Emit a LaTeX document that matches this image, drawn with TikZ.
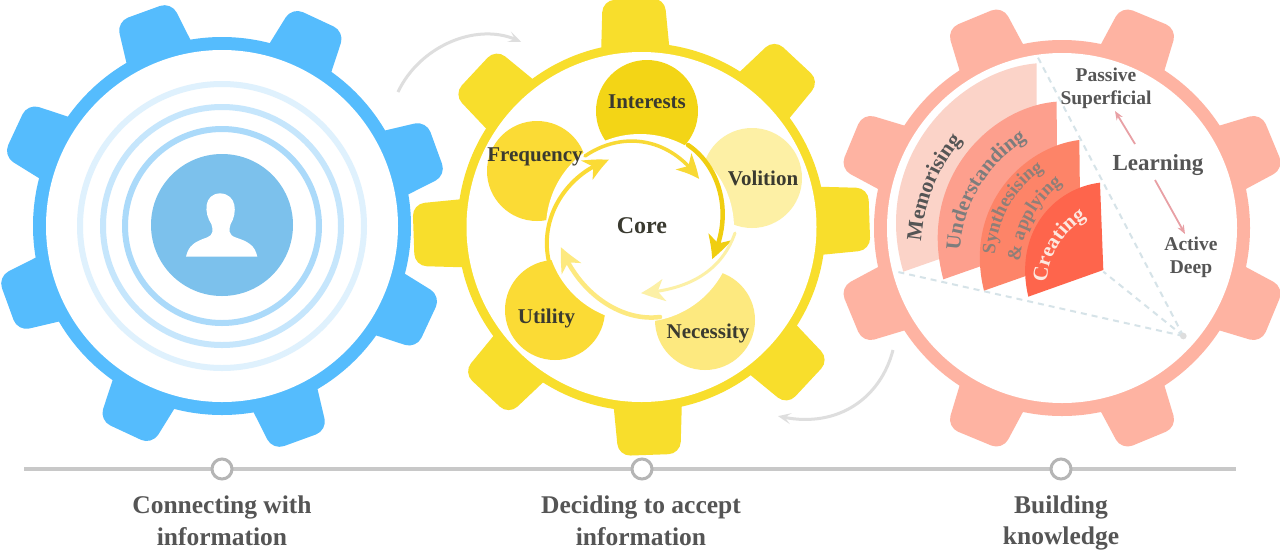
\documentclass[tikz,border=0pt]{standalone}
\usepackage{fontspec}
\setmainfont{Liberation Serif}
\usetikzlibrary{arrows.meta,decorations.text,bending}
\definecolor{gblue}{HTML}{55BCFD}
\definecolor{gyellow}{HTML}{F8DE2C}
\definecolor{gpink}{HTML}{FEB3A2}
\definecolor{txtgrey}{HTML}{555555}
\definecolor{txtdark}{HTML}{3A3A30}
\definecolor{lightarrow}{HTML}{DEDEDE}
\definecolor{dashc}{HTML}{D6E3E8}
\definecolor{wordgrey}{HTML}{7D7D7D}
\definecolor{synthgrey}{HTML}{8F7F78}
\definecolor{creatw}{HTML}{FDE8E0}
\definecolor{pinkarrow}{HTML}{E8A0A5}
\definecolor{stagec}{HTML}{B5B5B5}
\newcommand{\sz}[1]{\fontsize{#1}{#1}\selectfont\bfseries}
\newcommand{\wordA}{\sz{21.5}\color{txtgrey}}
\newcommand{\wordB}{\sz{21}\color{wordgrey}}
\newcommand{\wordC}{\sz{19}\color{synthgrey}}
\newcommand{\wordD}{\sz{21}\color{creatw}}
% centre x, centre y, outer r, inner r, first angle, colour, tip half width, base half width
\newcommand{\cog}[8]{%
  \foreach \a in {0,45,...,315}{
    \begin{scope}[shift={(#1,#2)},rotate=#5+\a]
      \fill[#6,rounded corners=12pt] (#3-20,-#8) -- (228,-#7) -- (228,#7) -- (#3-20,#8) -- cycle;
    \end{scope}
  }
  \fill[#6] (#1,#2) circle (#3);
  \fill[white] (#1,#2) circle (#4);
}
\tikzset{
  lab/.style={font=\sz{25.5},text=txtgrey,align=center},
  circlab/.style={font=\sz{21},text=txtdark},
  small/.style={font=\sz{19.5},text=txtgrey},
  stage/.style={circle,draw=stagec,fill=white,line width=3pt,minimum size=20pt,inner sep=0pt},
  ringline/.style={line width=6pt},
  grey arrow/.style={lightarrow,line width=3pt,-{Stealth[length=13pt,width=11pt,inset=6pt,bend]}},
  pink arrow/.style={draw=pinkarrow,line width=1.8pt,-{Stealth[length=9pt,width=7pt]}},
  dashl/.style={dashc,line width=2pt,dash pattern=on 6pt off 5pt},
  core arrow/.style={line width=#1,line cap=round}
}
\begin{document}
\begin{tikzpicture}[x=1pt,y=-1pt]
\useasboundingbox (0,0) rectangle (1280,550);
\fill[white] (0,0) rectangle (1280,550);

% ---- gears
\cog{222}{226}{189}{176}{20}{gblue}{29}{36}
\cog{641.5}{227}{184}{175}{2}{gyellow}{31}{35}
\cog{1062}{228}{188}{175}{22.5}{gpink}{30}{36}

% ---- blue gear content
\draw[ringline,color={rgb,255:red,223;green,241;blue,253}] (222,226) circle (142);
\draw[ringline,color={rgb,255:red,198;green,230;blue,252}] (222,226) circle (119);
\draw[ringline,color={rgb,255:red,171;green,218;blue,250}] (222,226) circle (97);
\fill[color={rgb,255:red,124;green,193;blue,236}] (222,225) circle (71);
\begin{scope}[x=0.33333pt,y=-0.33333pt]
\fill[white] (558,770) .. controls (566,735) and (585,725) .. (622,712)
  .. controls (640,705) and (640,690) .. (634,672)
  .. controls (612,640) and (610,582) .. (660,580)
  .. controls (712,582) and (712,640) .. (692,672)
  .. controls (686,690) and (686,705) .. (706,712)
  .. controls (745,725) and (764,735) .. (772,770) -- cycle;
\end{scope}

% ---- yellow gear content
\fill[color={rgb,255:red,243;green,213;blue,22}] (647,111) circle (51);
\fill[color={rgb,255:red,251;green,219;blue,53}] (537,171) circle (50);
\fill[color={rgb,255:red,253;green,240;blue,165}] (752,178) circle (50);
\fill[color={rgb,255:red,251;green,219;blue,53}] (555,310) circle (50);
\fill[color={rgb,255:red,253;green,233;blue,127}] (705,320) circle (50);
\fill[white] (640,228) circle (94);

\node[circlab] (interests) at (647,102) {Interests};
\node[circlab] (frequency) at (535,157) {Frequency};
\node[circlab] (volition) at (763,178) {Volition};
\node[circlab] (utility) at (546.5,318) {Utility};
\node[circlab] (necessity) at (708,333) {Necessity};
\node[font=\sz{24},text=txtdark] (core) at (642,226) {Core};

\coordinate (aS) at (585,156); \coordinate (aE) at (699,179);
\coordinate (bS) at (688,145); \coordinate (bE) at (712,259);
\coordinate (cS) at (735,233); \coordinate (cE) at (641,293);
\coordinate (dS) at (660,317); \coordinate (dE) at (561,247);
\coordinate (eS) at (549,262); \coordinate (eE) at (609,160);
\draw[core arrow=3.5pt,color={rgb,255:red,248;green,217;blue,53},-{Stealth[length=24pt,width=22pt,inset=7pt,bend]}]
  (aS) .. controls (620,132) and (668,135) .. (aE);
\draw[core arrow=4.5pt,color={rgb,255:red,240;green,206;blue,16},-{Stealth[length=24pt,width=24pt,inset=7pt,bend]}]
  (bS) .. controls (718,165) and (735,212) .. (bE);
\draw[core arrow=3pt,color={rgb,255:red,252;green,240;blue,166},-{Stealth[length=24pt,width=22pt,inset=7pt,bend]}]
  (cS) .. controls (722,270) and (690,290) .. (cE);
\draw[core arrow=4.5pt,color={rgb,255:red,253;green,233;blue,127},-{Stealth[length=24pt,width=22pt,inset=7pt,bend]}]
  (dS) .. controls (620,322) and (578,292) .. (dE);
\draw[core arrow=4pt,color={rgb,255:red,251;green,219;blue,53},-{Stealth[length=24pt,width=22pt,inset=7pt,bend]}]
  (eS) .. controls (538,215) and (570,172) .. (eE);

% ---- pink gear content (in 3x zoom coordinates, offset 840)
\begin{scope}[x=0.33333pt,y=-0.33333pt,shift={(2520,0)}]
\coordinate (apex) at (1030,1008);
\coordinate (dA) at (590,165);
\coordinate (dB) at (170,815);
\coordinate (dC) at (790,815);
\draw[dashl] (apex) -- (dA);
\draw[dashl] (apex) -- (dB);
\draw[dashl] (apex) -- (dC);
\fill[color={rgb,255:red,221;green,221;blue,221}] (apex) circle (10);
\fill[color={rgb,255:red,251;green,211;blue,200}] (590,190) .. controls (350,210) and (90,480) .. (190,815) -- (590,675) -- cycle;
\fill[color={rgb,255:red,253;green,159;blue,141}] (650,305) .. controls (450,320) and (230,540) .. (310,838) -- (652,718) -- cycle;
\fill[color={rgb,255:red,253;green,132;blue,104}] (718,420) .. controls (550,440) and (370,620) .. (432,872) -- (722,770) -- cycle;
\fill[color={rgb,255:red,254;green,101;blue,76}] (780,548) .. controls (640,565) and (520,700) .. (565,890) -- (790,810) -- cycle;
\path[decorate,decoration={text along path,text align=center,text={|\wordA|Memorising}}]
  (243,730) .. controls (248,625) and (290,505) .. (372,415);
\path[decorate,decoration={text along path,text align=center,text={|\wordB|Understanding}}]
  (360,760) .. controls (362,625) and (440,490) .. (568,415);
\path[decorate,decoration={text along path,text align=center,text={|\wordC|Synthesising}}]
  (465,770) .. controls (468,665) and (520,565) .. (618,505);
\path[decorate,decoration={text along path,text align=center,text={|\wordC|{\&} applying}}]
  (540,790) .. controls (543,695) and (590,605) .. (672,548);
\path[decorate,decoration={text along path,text align=center,text={|\wordD|Creating}}]
  (620,855) .. controls (620,775) and (670,690) .. (745,650);
\end{scope}

\node[small] (passive) at (1106,75) {Passive};
\node[small] (superficial) at (1106,100) {Superficial};
\node[font=\sz{23},text=txtgrey] (learning) at (1158,165) {Learning};
\node[small] (active) at (1191,244) {Active};
\node[small] (deep) at (1191,269) {Deep};
\coordinate (upS) at (1135,144); \coordinate (upE) at (1115,111);
\coordinate (dnS) at (1155,180); \coordinate (dnE) at (1185,234);
\draw[pink arrow] (upS) -- (upE);
\draw[pink arrow] (dnS) -- (dnE);

% ---- grey arrows between gears
\coordinate (g1S) at (398,92); \coordinate (g1E) at (521,42);
\coordinate (g2S) at (893,350); \coordinate (g2E) at (778,416);
\draw[grey arrow] (g1S) .. controls (420,45) and (480,20) .. (g1E);
\draw[grey arrow] (g2S) .. controls (880,400) and (835,430) .. (g2E);

% ---- timeline
\coordinate (tlS) at (24,469); \coordinate (tlE) at (1236,469);
\draw[color={rgb,255:red,200;green,200;blue,200},line width=4pt] (tlS) -- (tlE);
\node[stage] (s1) at (222,469) {};
\node[stage] (s2) at (642,469) {};
\node[stage] (s3) at (1061,469) {};
\node[lab] (l1a) at (222,507) {Connecting with};
\node[lab] (l1b) at (222,537) {information};
\node[lab] (l2a) at (641,507) {Deciding to accept};
\node[lab] (l2b) at (641,537) {information};
\node[lab] (l3a) at (1061,507) {Building};
\node[lab] (l3b) at (1061,538) {knowledge};
\end{tikzpicture}
\end{document}
